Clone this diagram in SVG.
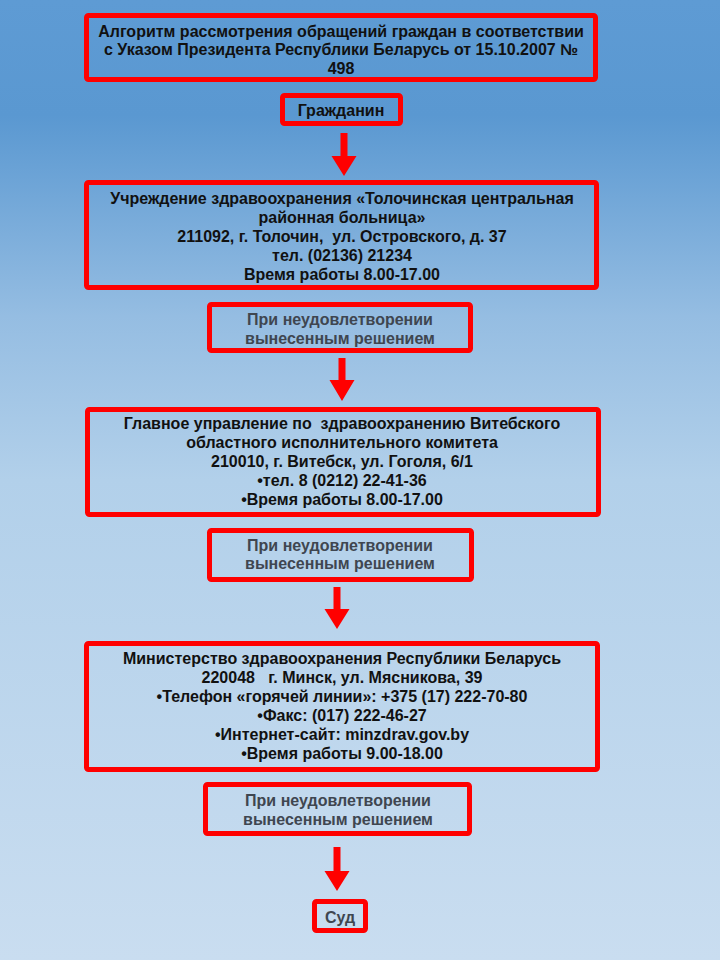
<svg xmlns="http://www.w3.org/2000/svg" width="720" height="960" viewBox="0 0 720 960">
<defs>
<linearGradient id="bg" x1="0" y1="0" x2="0" y2="1">
<stop offset="0" stop-color="#5e9bd4"/>
<stop offset="0.12" stop-color="#5a98d1"/>
<stop offset="0.33" stop-color="#95bde2"/>
<stop offset="0.5" stop-color="#b2d0ea"/>
<stop offset="1" stop-color="#c9ddf0"/>
</linearGradient>
<style>
.box{fill:none;stroke:#ff0000;stroke-width:5;}
.t{font-family:"Liberation Sans",Arial,sans-serif;font-weight:bold;font-size:16px;fill:#111;text-anchor:middle;white-space:pre;}
.g{fill:#3f4650;}
.arr{fill:#ff0000;}
</style>
</defs>
<rect x="0" y="0" width="720" height="960" fill="url(#bg)"/>

<g id="connectors">
<path class="arr" d="M340.5 133 h7 v23 h9 l-12.5 20 l-12.5 -20 h9 z"/>
<path class="arr" d="M338.5 358 h7 v22 h9 l-12.5 21 l-12.5 -21 h9 z"/>
<path class="arr" d="M333.5 587 h7 v22 h9 l-12.5 20 l-12.5 -20 h9 z"/>
<path class="arr" d="M333.5 847 h7 v24 h9 l-12.5 20 l-12.5 -20 h9 z"/>
</g>

<g id="title">
<rect class="box" x="86.5" y="15.5" width="509" height="64" rx="2"/>
<text class="t" x="341" y="36.5">Алгоритм рассмотрения обращений граждан в соответствии</text>
<text class="t" x="341" y="55">с Указом Президента Республики Беларусь от 15.10.2007 №</text>
<text class="t" x="341" y="73.5">498</text>
</g>

<g id="citizen">
<rect class="box" x="282.5" y="95.5" width="118" height="28" rx="2"/>
<text class="t" x="341" y="115.5">Гражданин</text>
</g>

<g id="hospital">
<rect class="box" x="86.5" y="182.5" width="510" height="105" rx="2"/>
<text class="t" x="342" y="203.5">Учреждение здравоохранения «Толочинская центральная</text>
<text class="t" x="342" y="222.5">районная больница»</text>
<text class="t" x="342" y="241.5">211092, г. Толочин,  ул. Островского, д. 37</text>
<text class="t" x="342" y="260.5">тел. (02136) 21234</text>
<text class="t" x="342" y="279.5">Время работы 8.00-17.00</text>
</g>

<g id="unsat1">
<rect class="box" x="209.5" y="304.5" width="261" height="46" rx="2"/>
<text class="t g" x="340" y="324.5">При неудовлетворении</text>
<text class="t g" x="340" y="343.5">вынесенным решением</text>
</g>

<g id="regional">
<rect class="box" x="87.5" y="409.5" width="511" height="105" rx="2"/>
<text class="t" x="342" y="428.5">Главное управление по  здравоохранению Витебского</text>
<text class="t" x="342" y="447.5">областного исполнительного комитета</text>
<text class="t" x="342" y="466.5">210010, г. Витебск, ул. Гоголя, 6/1</text>
<text class="t" x="342" y="485.5">•тел. 8 (0212) 22-41-36</text>
<text class="t" x="342" y="504.5">•Время работы 8.00-17.00</text>
</g>

<g id="unsat2">
<rect class="box" x="209.5" y="530.5" width="262" height="49" rx="2"/>
<text class="t g" x="340" y="550.5">При неудовлетворении</text>
<text class="t g" x="340" y="569">вынесенным решением</text>
</g>

<g id="ministry">
<rect class="box" x="86.5" y="643.5" width="511" height="126" rx="2"/>
<text class="t" x="342" y="663.5">Министерство здравоохранения Республики Беларусь</text>
<text class="t" x="342" y="682.5">220048   г. Минск, ул. Мясникова, 39</text>
<text class="t" x="342" y="701.5">•Телефон «горячей линии»: +375 (17) 222-70-80</text>
<text class="t" x="342" y="720.5">•Факс: (017) 222-46-27</text>
<text class="t" x="342" y="739.5">•Интернет-сайт: minzdrav.gov.by</text>
<text class="t" x="342" y="758.5">•Время работы 9.00-18.00</text>
</g>

<g id="unsat3">
<rect class="box" x="205.5" y="784.5" width="264" height="49" rx="2"/>
<text class="t g" x="338" y="805.5">При неудовлетворении</text>
<text class="t g" x="338" y="824.5">вынесенным решением</text>
</g>

<g id="court">
<rect class="box" x="314.5" y="901.5" width="51" height="29" rx="2"/>
<text class="t g" x="340" y="922.5">Суд</text>
</g>
</svg>
